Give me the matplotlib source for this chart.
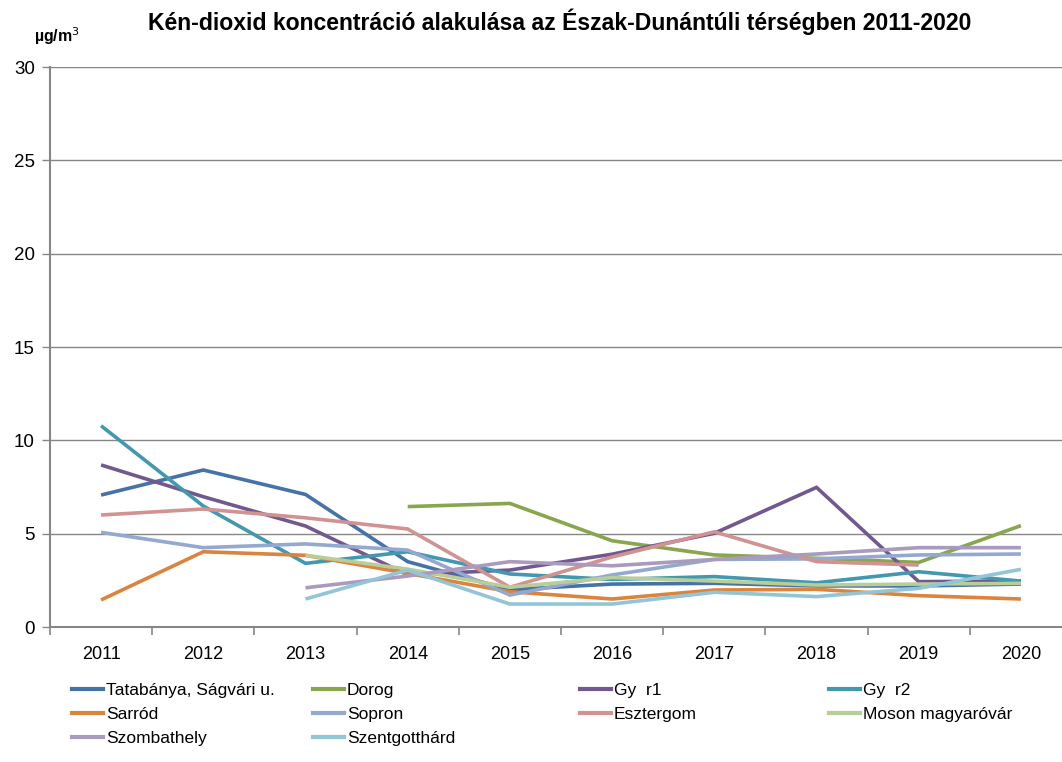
import numpy as np
import matplotlib
matplotlib.use('Agg')
import matplotlib.pyplot as plt
from matplotlib.lines import Line2D

#-------------------------------------------------------------------------------
# data (ug/m3), nan = no measurement
years = ['2011', '2012', '2013', '2014', '2015', '2016', '2017', '2018', '2019', '2020']
nan = np.nan
tatabanya = [7.07, 8.41, 7.10, 3.50, 2.00, 2.30, 2.34, 2.20, 2.20, 2.30]
dorog = [nan, nan, nan, 6.45, 6.62, 4.62, 3.86, 3.68, 3.46, 5.43]
gyor1 = [8.68, 6.98, 5.41, 2.80, 3.05, 3.90, 5.02, 7.48, 2.43, 2.46]
gyor2 = [10.78, 6.48, 3.41, 4.03, 2.84, 2.55, 2.70, 2.37, 2.96, 2.46]
sarrod = [1.45, 4.03, 3.84, 2.87, 1.89, 1.50, 1.98, 2.02, 1.68, 1.50]
sopron = [5.07, 4.25, 4.45, 4.12, 1.71, 2.79, 3.62, 3.65, 3.86, 3.91]
esztergom = [6.00, 6.32, 5.85, 5.25, 2.13, 3.75, 5.10, 3.50, 3.32, nan]
moson = [nan, nan, 3.84, 3.10, 2.13, 2.65, 2.46, 2.25, 2.30, 2.34]
szombathely = [nan, nan, 2.10, 2.73, 3.50, 3.28, 3.62, 3.91, 4.25, 4.25]
szentgotthard = [nan, nan, 1.50, 3.05, 1.23, 1.23, 1.86, 1.63, 2.07, 3.09]

names = ['Tatabánya, Ságvári u.', 'Dorog', 'Gy  r1', 'Gy  r2', 'Sarród', 'Sopron',
         'Esztergom', 'Moson magyaróvár', 'Szombathely', 'Szentgotthárd']
series = [tatabanya, dorog, gyor1, gyor2, sarrod, sopron, esztergom, moson,
          szombathely, szentgotthard]
colors = ['#4572A7', '#89A54E', '#71588F', '#4198AF', '#DB843D', '#93A9CF',
          '#D19392', '#B9CD96', '#A99BBD', '#92C5D8']

#-------------------------------------------------------------------------------
plt.rcParams['font.family'] = ['Liberation Sans', 'DejaVu Sans']
fig = plt.figure(figsize=(10.62, 7.62), dpi=100)
# right edge of the plot area runs past the picture, as in the original
ax = fig.add_axes([50/1062, 135/762, 1022/1062, 560/762])

x = np.arange(len(years))
for k in range(len(series)):
    ax.plot(x, series[k], color=colors[k], lw=2.6, label=names[k],
            solid_joinstyle='miter', solid_capstyle='butt')

gray = '#868686'
ax.set_xlim(-0.5, 9.5)
ax.set_ylim(0, 30)
ax.set_yticks(np.arange(0, 31, 5))
ax.yaxis.grid(True, color=gray, lw=1.0)
ax.set_axisbelow(True)
ax.set_xticks(x)
ax.set_xticklabels(years)
ax.set_xticks(np.arange(-0.5, 10, 1), minor=True)
ax.tick_params(axis='x', which='major', length=0, pad=14, labelsize=13)
ax.tick_params(axis='x', which='minor', length=6, color=gray, width=1.2)
ax.tick_params(axis='y', length=6, color=gray, width=1.0, labelsize=13.5, pad=5)
for s in ['top', 'right']:
    ax.spines[s].set_visible(False)
for s in ['left', 'bottom']:
    ax.spines[s].set_color(gray)
    ax.spines[s].set_linewidth(1.5)

fig.text(560/1062, 1 - 22/762, 'Kén-dioxid koncentráció alakulása az Észak-Dunántúli térségben 2011-2020',
         ha='center', va='center', fontsize=16.6, fontweight='bold')
fig.text(57/1062, 1 - 36/762, 'µg/m$^3$', ha='center', va='center', fontsize=11.5, fontweight='bold')

#-------------------------------------------------------------------------------
# legend: 4 equal columns, filled row by row
colx = [72, 313, 580, 829]
for c in range(4):
    idx = list(range(c, len(series), 4))
    hnd = [Line2D([0], [0], color=colors[i], lw=3) for i in idx]
    lab = [names[i] for i in idx]
    fig.legend(hnd, lab, loc='upper left', bbox_to_anchor=(colx[c]/1062, 1 - 683/762),
               frameon=False, fontsize=12.5, handlelength=1.8, handletextpad=0.15,
               labelspacing=0.5, borderpad=0, borderaxespad=0)

plt.savefig('out.png', dpi=100)
